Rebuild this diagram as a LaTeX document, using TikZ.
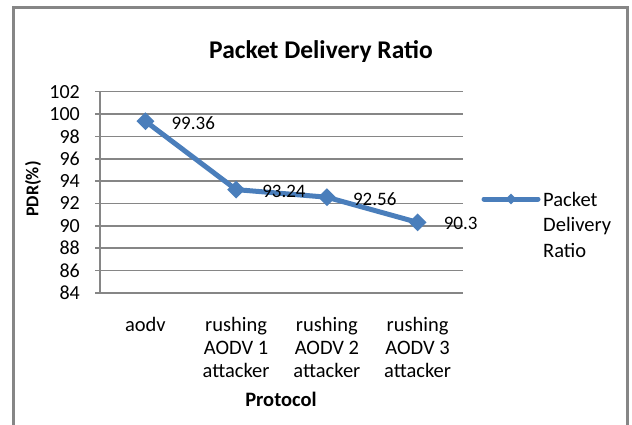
\documentclass[tikz,border=0pt]{standalone}
\usepackage{fontspec}
\setmainfont{Carlito}
\usetikzlibrary{shapes.geometric}
\definecolor{ser}{HTML}{4A7EBB}
\definecolor{gridc}{HTML}{868686}
\begin{document}
\begin{tikzpicture}[x=1pt,y=-1pt,
  lbl/.style={font=\fontsize{19}{23}\selectfont, inner sep=0pt},
  ticklbl/.style={font=\fontsize{20}{23}\selectfont, inner sep=0pt},
  catlbl/.style={font=\fontsize{20.5}{23}\selectfont, inner sep=0pt, align=center, anchor=base},
  leglbl/.style={font=\fontsize{20.5}{25.5}\selectfont, inner sep=0pt, align=left, anchor=base west},
  ttl/.style={font=\fontsize{25.5}{28}\selectfont\bfseries, inner sep=0pt},
  axt/.style={font=\fontsize{20.5}{23}\selectfont\bfseries, inner sep=0pt},
  gridline/.style={draw=gridc, line width=1.5pt},
  serline/.style={draw=ser, line width=5pt, line join=round},
  dmark/.style={diamond, fill=ser, inner sep=0pt, minimum width=18pt, minimum height=18pt},
  lmark/.style={diamond, fill=ser, inner sep=0pt, minimum width=11pt, minimum height=11pt}]
\useasboundingbox (0,0) rectangle (632,424);
\begin{scope}
\clip (0,0) rectangle (632,424);
\draw[gridc, line width=2.5pt] (13.5,7.5) rectangle (627.5,440);
\end{scope}
% title
\node[ttl] (title) at (321,52) {Packet Delivery Ratio};
% gridlines and tick labels
\foreach \i in {0,...,9} {
  \pgfmathsetmacro{\yy}{292.8-\i*22.34}
  \pgfmathtruncatemacro{\vv}{84+2*\i}
  \draw[gridline] (95,\yy) -- (463,\yy);
  \node[ticklbl, anchor=east] (t\i) at (80,\yy) {\vv};
}
\draw[gridline] (100,91.7) -- (100,292.8);
% axis titles
\node[axt, rotate=90, font=\fontsize{18}{23}\selectfont\bfseries] (ytitle) at (33,189) {PDR(\%)};
\node[axt] (xtitle) at (281,399) {Protocol};
% category labels
\node[catlbl] (c1) at (145.4,331) {aodv};
\node[catlbl] (c2) at (236.1,377) {rushing\\AODV 1\\attacker};
\node[catlbl] (c3) at (326.9,377) {rushing\\AODV 2\\attacker};
\node[catlbl] (c4) at (417.6,377) {rushing\\AODV 3\\attacker};
% data
\coordinate (p1) at (145.4,121.2);
\coordinate (p2) at (236.1,189.6);
\coordinate (p3) at (326.9,197.2);
\coordinate (p4) at (417.6,222.4);
\draw[serline] (p1) -- (p2) -- (p3) -- (p4);
\foreach \p in {p1,p2,p3,p4} \node[dmark] (m\p) at (\p) {};
\node[lbl, anchor=west] (d1) at ([shift={(26,1.5)}]p1) {99.36};
\node[lbl, anchor=west] (d2) at ([shift={(26,1.5)}]p2) {93.24};
\node[lbl, anchor=west] (d3) at ([shift={(26,1.5)}]p3) {92.56};
\node[lbl, anchor=west] (d4) at ([shift={(26,1.5)}]p4) {90.3};
% legend
\coordinate (la) at (484,199);
\coordinate (lb) at (538,199);
\draw[serline, line cap=round] (la) -- (lb);
\node[lmark] (lm) at (511,199) {};
\node[leglbl] (leg) at (543,257) {Packet\\Delivery\\Ratio};
\end{tikzpicture}
\end{document}
